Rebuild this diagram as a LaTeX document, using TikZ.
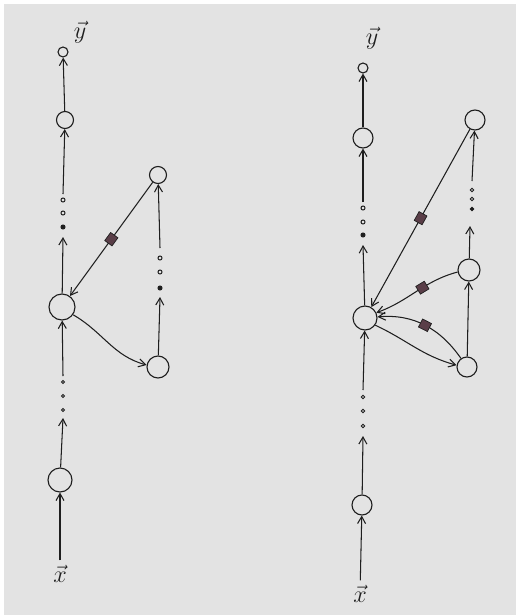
\documentclass[tikz,border=0pt]{standalone}
\usetikzlibrary{arrows.meta}
\definecolor{paper}{HTML}{E3E3E3}
\definecolor{ink}{HTML}{1E1E1E}
\definecolor{blot}{HTML}{5A3E48}
\tikzset{
  neuron/.style={circle,draw=ink,line width=1.1pt,inner sep=0pt},
  dotnode/.style={circle,draw=ink,line width=1pt,inner sep=0pt,minimum size=4pt},
  arr/.style={draw=ink,line width=1.05pt,-{Straight Barb[length=7pt,width=8pt]}},
  wbox/.style={rectangle,draw=ink,fill=blot,line width=0.7pt,minimum width=10pt,minimum height=9pt,inner sep=0pt},
  lab/.style={text=ink,font=\LARGE,scale=1.4}
}
\begin{document}
\begin{tikzpicture}[x=1pt,y=-1pt]
\useasboundingbox (0,0) rectangle (516,615);
\fill[white] (0,0) rectangle (516,615);
\fill[paper] (4,4) rectangle (516,615);

% ---------- left network ----------
\node[lab] (yL) at (80,32) {$\vec{y}$};
\node[neuron,minimum size=10pt] (oL) at (63,52) {};
\node[neuron,minimum size=17pt] (hL2) at (65,120) {};
\node[dotnode] (dL1) at (63,200) {};
\node[dotnode] (dL2) at (63,213) {};
\node[dotnode,fill=ink] (dL3) at (63,227) {};
\coordinate (dL0) at (63,194);
\coordinate (dL4) at (63,237);
\node[neuron,minimum size=26pt] (bL) at (62,307) {};
\node[dotnode,minimum size=3pt] (eL1) at (63,382) {};
\node[dotnode,minimum size=3pt] (eL2) at (63,396) {};
\node[dotnode,minimum size=3pt] (eL3) at (63,410) {};
\coordinate (eL0) at (63,376);
\coordinate (eL4) at (63,418);
\node[neuron,minimum size=24pt] (hL1) at (60,480) {};
\node[lab] (xL) at (60,574) {$\vec{x}$};

\node[neuron,minimum size=17pt] (tL) at (158,175) {};
\node[neuron,minimum size=22pt] (rL) at (158,367) {};
\node[dotnode] (fL1) at (160,258) {};
\node[dotnode] (fL2) at (160,272) {};
\node[dotnode,fill=ink] (fL3) at (160,288) {};
\coordinate (fL0) at (160,248);
\coordinate (fL4) at (160,297);

\draw[arr] (hL2) -- (oL);
\draw[arr] (dL0) -- (hL2);
\draw[arr] (bL) -- (dL4);
\draw[arr] (eL0) -- (bL);
\draw[arr] (hL1) -- (eL4);
\draw[arr] (xL) -- (hL1);
\draw[arr] (tL) -- node[wbox,sloped,pos=0.5] (mL) {} (bL);
\draw[arr] (bL.-35) to[out=-30,in=165] (rL.170);
\draw[arr] (rL) -- (fL4);
\draw[arr] (fL0) -- (tL);

% ---------- right network ----------
\node[lab] (yR) at (372,38) {$\vec{y}$};
\node[neuron,minimum size=10pt] (oR) at (363,68) {};
\node[neuron,minimum size=20pt] (hR2) at (363,138) {};
\node[dotnode] (dR1) at (363,208) {};
\node[dotnode] (dR2) at (363,222) {};
\node[dotnode,fill=ink] (dR3) at (363,235) {};
\coordinate (dR0) at (363,202);
\coordinate (dR4) at (363,245);
\node[neuron,minimum size=24pt] (bR) at (365,318) {};
\node[dotnode,minimum size=3.5pt] (eR1) at (363,397) {};
\node[dotnode,minimum size=3.5pt] (eR2) at (363,411) {};
\node[dotnode,minimum size=3.5pt] (eR3) at (363,426) {};
\coordinate (eR0) at (363,390);
\coordinate (eR4) at (363,436);
\node[neuron,minimum size=20pt] (hR1) at (362,505) {};
\node[lab] (xR) at (360,594) {$\vec{x}$};

\node[neuron,minimum size=20pt] (tR) at (475,120) {};
\node[neuron,minimum size=22pt] (mR) at (469,270) {};
\node[neuron,minimum size=20pt] (nR) at (467,367) {};
\node[dotnode,minimum size=3.5pt] (fR1) at (472,190) {};
\node[dotnode,minimum size=3.5pt] (fR2) at (472,199) {};
\node[dotnode,minimum size=3.5pt,fill=ink] (fR3) at (472,209) {};
\coordinate (fR0) at (472,181);
\coordinate (fR4) at (470,226);

\draw[arr] (hR2) -- (oR);
\draw[arr] (dR0) -- (hR2);
\draw[arr] (bR) -- (dR4);
\draw[arr] (eR0) -- (bR);
\draw[arr] (hR1) -- (eR4);
\draw[arr] (xR) -- (hR1);
\draw[arr] (tR) -- node[wbox,sloped,pos=0.5] (mR1) {} (bR.60);
\draw[arr] (mR.190) to[out=195,in=20] node[wbox,sloped,pos=0.42] (mR2) {} (bR.25);
\draw[arr] (bR.-35) to[out=-25,in=165] (nR.170);
\draw[arr] (nR.125) to[out=125,in=5] node[wbox,sloped,pos=0.5] (mR3) {} (bR.5);
\draw[arr] (nR) -- (mR);
\draw[arr] (mR) -- (fR4);
\draw[arr] (fR0) -- (tR);
\end{tikzpicture}
\end{document}
